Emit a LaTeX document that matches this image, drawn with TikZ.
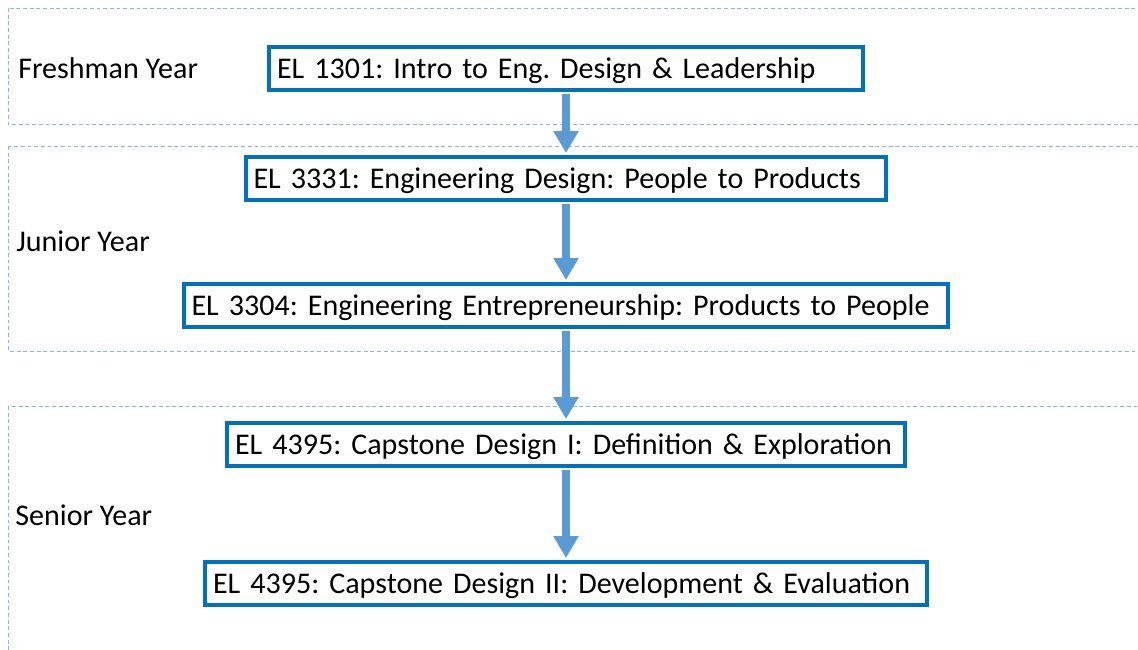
\documentclass[tikz,border=0pt]{standalone}
\usepackage{fontspec}
\setmainfont{Carlito}
\usetikzlibrary{arrows.meta}
\definecolor{boxblue}{RGB}{0,112,192}
\definecolor{arrowblue}{RGB}{91,155,213}
\definecolor{bandblue}{RGB}{140,185,228}
\frenchspacing

\begin{document}
\begin{tikzpicture}[x=0.02cm,y=-0.02cm,
    course/.style={draw=boxblue, line width=0.08cm, fill=white, minimum height=0.86cm,
      inner xsep=0.16cm, inner ysep=0pt, text height=11pt, text depth=0pt,
      align=left, font=\fontsize{17.1}{20}\selectfont},
    band/.style={draw=bandblue, line width=0.5pt, dash pattern=on 2.2pt off 1.6pt},
    year/.style={anchor=west, inner sep=0pt, text height=11pt, text depth=0pt,
      font=\fontsize{17.1}{20}\selectfont},
    flow/.style={-{Triangle[length=0.44cm,width=0.48cm]}, draw=arrowblue, line width=0.146cm,
      shorten <=0.04cm, shorten >=0.04cm}]
  \useasboundingbox (0,0) rectangle (1138,649);

  % one band per year, open to the right
  \draw[band] (8,8) rectangle (1170,124);
  \draw[band] (8,146) rectangle (1170,351);
  \draw[band] (8,406) rectangle (1170,680);

  \node[year] (freshman) at (18,69) {Freshman Year};
  \node[year] (junior) at (16,242) {Junior Year};
  \node[year] (senior) at (15,516) {Senior Year};

  % courses, all centred on the same column
  \node[course, text width=11.56cm] (el1301) at (566,68.5) {\mbox{EL 1301: Intro to Eng. Design \& Leadership}};
  \node[course, text width=12.50cm] (el3331) at (566,178.5) {\mbox{EL 3331: Engineering Design: People to Products}};
  \node[course, text width=14.98cm] (el3304) at (566,305.5) {\mbox{EL 3304: Engineering Entrepreneurship: Products to People}};
  \node[course, text width=13.24cm] (capone) at (566,444.5) {\mbox{EL 4395: Capstone Design I: Definition \& Exploration}};
  \node[course, text width=14.12cm] (captwo) at (566,583.5) {\mbox{EL 4395: Capstone Design II: Development \& Evaluation}};

  \foreach \a/\b in {el1301/el3331, el3331/el3304, el3304/capone, capone/captwo}
    \draw[flow] (\a.south) -- (\b.north);
\end{tikzpicture}
\end{document}
